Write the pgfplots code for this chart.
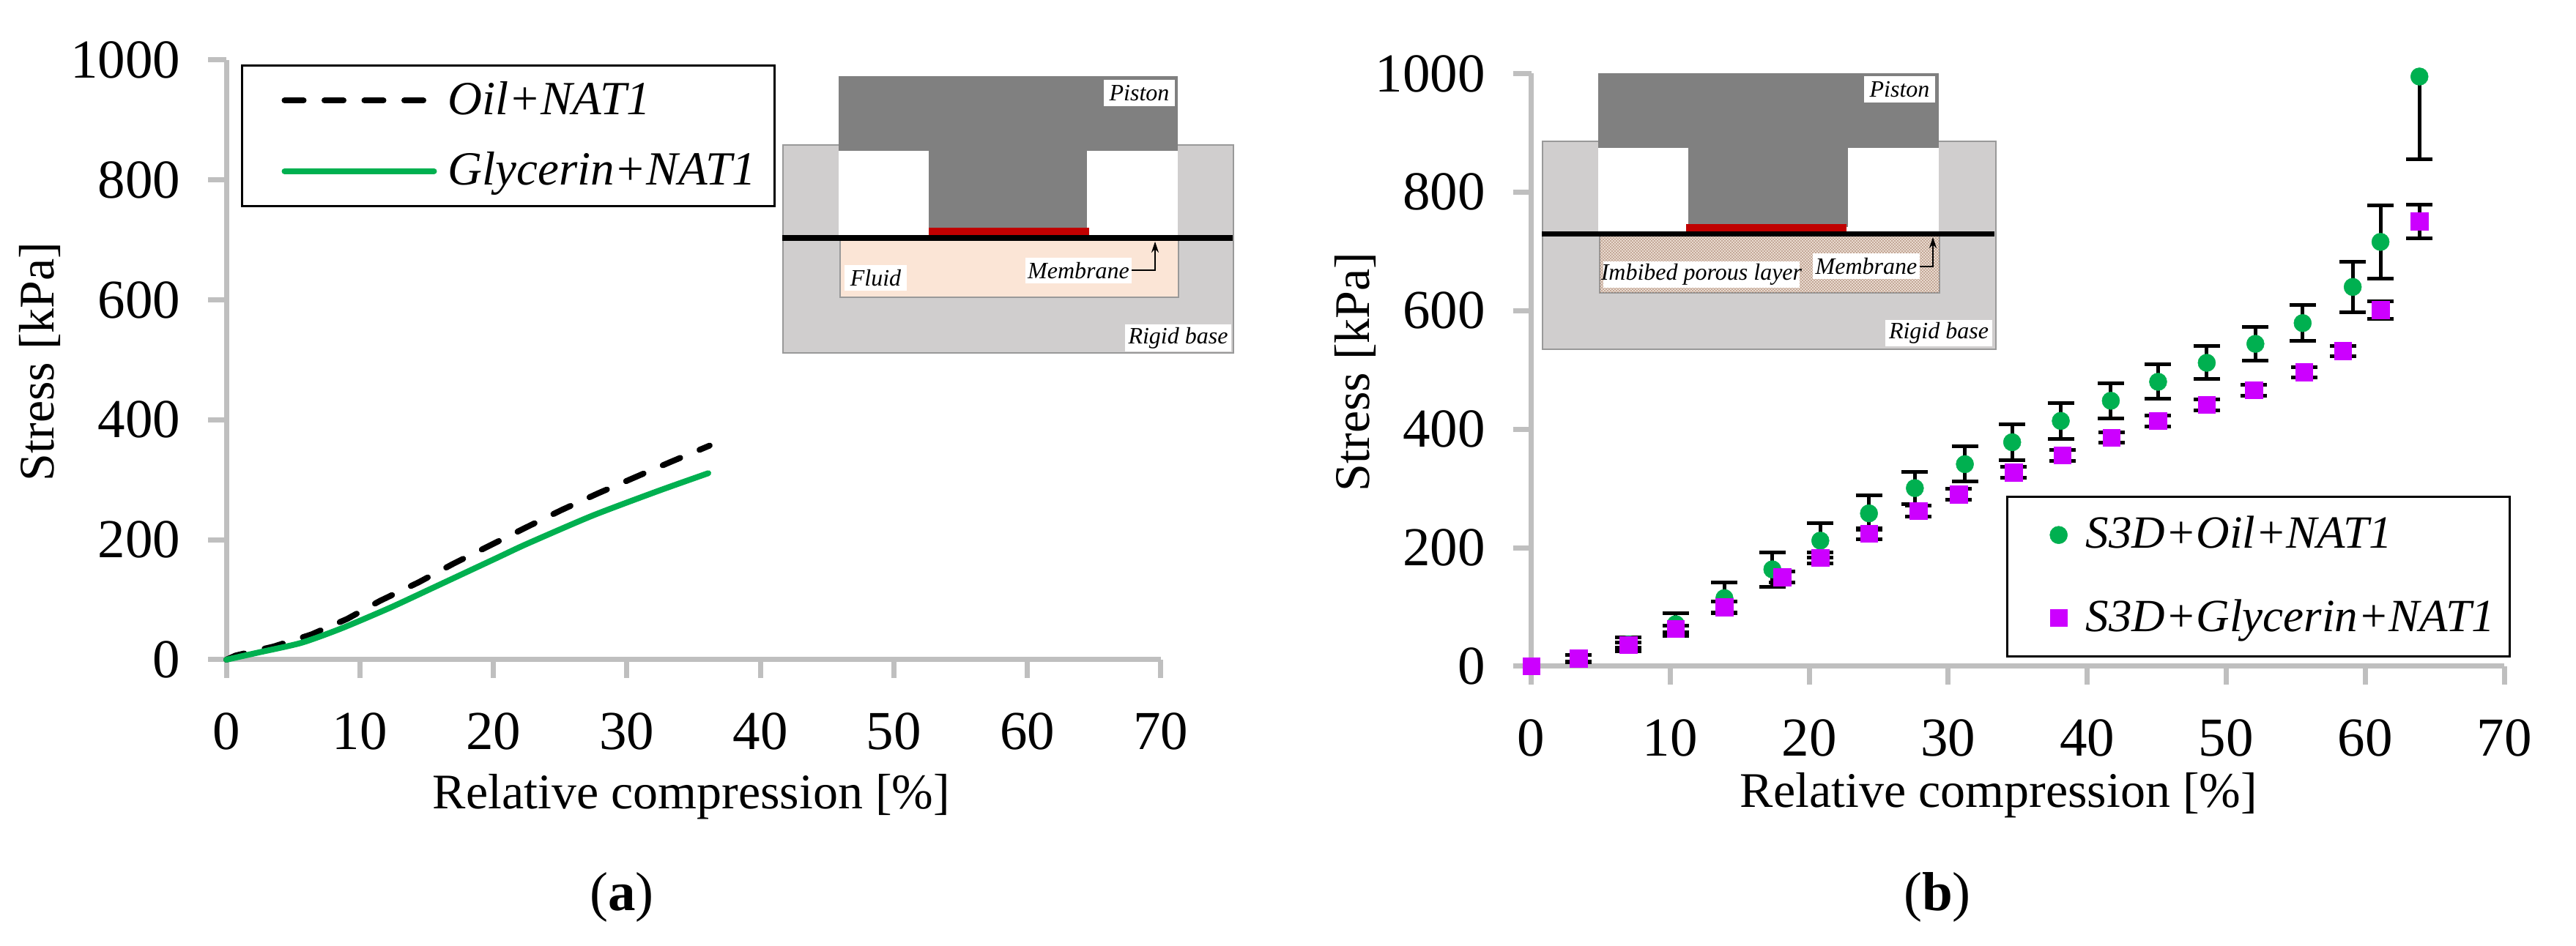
\documentclass[border=0pt]{standalone}
\usepackage{fontspec}
\setmainfont{Liberation Serif}
\usepackage{pgfplots}
\pgfplotsset{compat=1.18}
\usetikzlibrary{patterns,arrows.meta}
\definecolor{axgray}{HTML}{BFBFBF}
\definecolor{mgreen}{HTML}{00B050}
\definecolor{mpurple}{HTML}{CC00FF}
\definecolor{piston}{HTML}{808080}
\definecolor{basegray}{HTML}{D0CECE}
\definecolor{peach}{HTML}{FBE5D6}
\definecolor{porousbg}{HTML}{EADBD0}
\definecolor{porousdot}{HTML}{9C7460}
\definecolor{dred}{HTML}{C00000}

\pgfdeclarepatternformonly{finedots}{\pgfqpoint{-.1pt}{-.1pt}}{\pgfqpoint{.9pt}{.9pt}}{\pgfqpoint{.8pt}{.8pt}}{%
  \pgfpathcircle{\pgfqpoint{.2pt}{.2pt}}{.19pt}%
  \pgfpathcircle{\pgfqpoint{.6pt}{.6pt}}{.19pt}%
  \pgfusepath{fill}%
}

\pgfplotsset{
  stressaxis/.style={
    scale only axis,
    xmin=0, xmax=70, ymin=0, ymax=1000,
    xtick={0,10,...,70},
    ytick={0,200,...,1000},
    axis x line*=bottom,
    axis y line*=left,
    axis line style={axgray,line width=1.4pt,-},
    tick style={axgray,line width=1.4pt},
    tick align=outside,
    major tick length=5pt,
    minor tick num=0,
    tick label style={font=\fontsize{15}{15}\selectfont,text=black},
    /pgf/number format/assume math mode=true,
    /pgf/number format/1000 sep={},
    xticklabel style={yshift=-6pt},
    yticklabel style={xshift=-4pt},
    label style={font=\fontsize{13.6}{13.6}\selectfont},
    xlabel={Relative compression [\%]},
    ylabel={Stress [kPa]},
    clip=false,
  },
  errbar/.style={
    error bars/.cd,
    y dir=#1, y explicit,
    error bar style={black,line width=1pt},
    error mark options={black,line width=1pt,rotate=90,mark size=3.6pt},
  },
  greenmark/.style={only marks,mgreen,mark=*,mark size=2.4pt,mark options={fill=mgreen,draw=mgreen,line width=.1pt}},
  purplemark/.style={only marks,mpurple,mark=square*,mark size=2.35pt,mark options={fill=mpurple,draw=mpurple,line width=.1pt}},
}

% white label box with italic text, coordinates are reference pixels
\newcommand{\lbl}[5]{%
  \fill[white] (#1,#3) rectangle (#2,#4);
  \node[font=\fontsize{6.4}{6.4}\selectfont\itshape,inner sep=0pt] at ({(#1+#2)/2},{(#3+#4)/2}) {#5};
}

\begin{document}
\begin{tikzpicture}[x=1pt,y=1pt]
\path[use as bounding box] (0,0) rectangle (703.4,258.4);

% panel a
\begin{axis}[
  stressaxis,
  at={(61.8pt,78.2pt)}, anchor=south west,
  width=255.2pt, height=163.8pt,
  xlabel style={at={(axis description cs:0.4976,-0.2283)},anchor=center},
  ylabel style={at={(axis description cs:-0.1998,0.497)},anchor=center},
  legend style={
    at={(axis description cs:0.0157,0.9927)},anchor=north west,
    draw=black,line width=.6pt,
    font=\fontsize{13}{13}\selectfont\itshape,
    row sep=4.8pt, inner xsep=3pt, inner ysep=2.3pt,
  },
  legend cell align=left,
  legend image code/.code={\path (-7.8pt,0pt) (41.8pt,0pt); \draw[#1] (0pt,0pt) -- (40.8pt,0pt);},
]
\addplot[black,line width=1.6pt,line cap=round,dash pattern=on 5.2pt off 5.7pt] coordinates {
  (0,0) (0.7,7) (3.55,22) (6.36,42) (9.05,68) (11.5,98) (14.4,129) (17,160) (19.7,190) (22.4,220) (25.1,249.5) (27.8,277) (30.55,303.6) (33.3,330) (36.2,357)
};
\addlegendentry{Oil+NAT1}
\addplot[mgreen,line width=1.6pt,line cap=round,smooth,tension=.4] coordinates {
  (0,0) (2.2,11) (5.6,28) (8.6,52) (12.2,86) (15.2,117) (20.1,168) (22.5,193) (27.4,240) (32.3,281) (36.1,311)
};
\addlegendentry{Glycerin+NAT1}
\end{axis}

% panel b
\begin{axis}[
  stressaxis,
  at={(418.1pt,76.4pt)}, anchor=south west,
  width=265.7pt, height=161.9pt,
  xlabel style={at={(axis description cs:0.4806,-0.2174)},anchor=center},
  ylabel style={at={(axis description cs:-0.181,0.4966)},anchor=center},
  legend style={
    at={(axis description cs:0.4879,0.2877)},anchor=north west,
    draw=black,line width=.6pt,
    font=\fontsize{12.6}{12.6}\selectfont\itshape,
    row sep=8.4pt, inner xsep=2pt, inner ysep=3.3pt,
  },
  legend cell align=left,
  legend image code/.code={\path (-11.8pt,0pt) (5.1pt,0pt); \draw[#1] plot coordinates {(0pt,0pt)};},
]
\addplot[greenmark,errbar=both] table[x=x,y=y,y error plus=ep,y error minus=em] {
x y ep em
3.4 13 6 6
7 37 12 12
10.4 71 19 20
13.9 115 26 25
17.35 163.5 28 29
20.8 212 30 28
24.3 258 31 28
27.6 300.6 27 27
31.2 341 30 29
34.6 378 30 30
38.1 414 30 30
41.7 448 29 30
45.1 480 29 29
48.6 512 29 27
52.1 544 29 28
55.5 579 31 30
59.1 640 43 43
61.1 716 61 62
};
\addlegendentry{S3D+Oil+NAT1}
% last point only has a lower bar
\addplot[forget plot,greenmark,errbar=minus] table[x=x,y=y,y error minus=em] {
x y em
63.9 995 140
};
\addplot[forget plot,purplemark] coordinates {(0,0)};
\addplot[purplemark,errbar=both] table[x=x,y=y,y error plus=ep,y error minus=em] {
x y ep em
3.4 13.4 6 6
7 36 4 4
10.4 63 5 5
13.9 100 9 9
18.06 150.6 9 9
20.8 183 9 9
24.3 224 9.4 9.4
27.85 262 9.4 9.4
30.75 290 9 9
34.7 327 9 9
38.2 356 9 9
41.75 386 9 9
45.1 414 9 9
48.6 441 9 9
52 466 9 9
55.6 496 9 9
58.4 532 9 9
61.1 601 15 15
63.9 751 28 29
};
\addlegendentry{S3D+Glycerin+NAT1}
\end{axis}

% insets, in reference pixels measured from the top left corner
\begin{scope}[x=0.2pt,y=-0.2pt,shift={(0,-1292)}]
  % left inset
  \fill[basegray,draw=gray!80,line width=.3pt] (1069,198) rectangle (1684,482);
  \fill[white] (1145,206) rectangle (1608,322);
  \fill[piston] (1145,104) rectangle (1608,206);
  \fill[piston] (1268,206) rectangle (1484,315);
  \fill[peach,draw=gray!80,line width=.3pt] (1147,325) rectangle (1609,406);
  \fill[dred] (1268,311) rectangle (1487,324);
  \fill[black] (1068,321) rectangle (1683,329);
  \lbl{1507}{1604}{109}{145}{Piston}
  \lbl{1153}{1238}{362}{397}{Fluid}
  \lbl{1400}{1545}{352}{387}{Membrane}
  \lbl{1536}{1681}{443}{480}{Rigid base}
  \draw[black,line width=.4pt,-{Stealth[length=3pt,width=2pt]}] (1545,369) -- (1577,369) -- (1577,330);
  % right inset
  \fill[basegray,draw=gray!80,line width=.3pt] (2106,193) rectangle (2725,477);
  \fill[white] (2182,202) rectangle (2647,318);
  \fill[piston] (2182,100) rectangle (2647,202);
  \fill[piston] (2305,202) rectangle (2523,310);
  \fill[porousbg,draw=gray!80,line width=.3pt] (2184,320) rectangle (2648,400);
  \fill[pattern=finedots,pattern color=porousdot] (2184,320) rectangle (2648,400);
  \fill[dred] (2302,306) rectangle (2521,319);
  \fill[black] (2105,316) rectangle (2723,323);
  \lbl{2545}{2642}{104}{140}{Piston}
  \lbl{2189}{2457}{357}{393}{Imbibed porous layer}
  \lbl{2475}{2621}{346}{381}{Membrane}
  \lbl{2574}{2720}{437}{473}{Rigid base}
  \draw[black,line width=.4pt,-{Stealth[length=3pt,width=2pt]}] (2621,364) -- (2639,364) -- (2639,324);
  % panel captions
  \node[font=\fontsize{15}{15}\selectfont] at (849,1225) {(\textbf{a})};
  \node[font=\fontsize{15}{15}\selectfont] at (2645,1225) {(\textbf{b})};
\end{scope}
\end{tikzpicture}
\end{document}
